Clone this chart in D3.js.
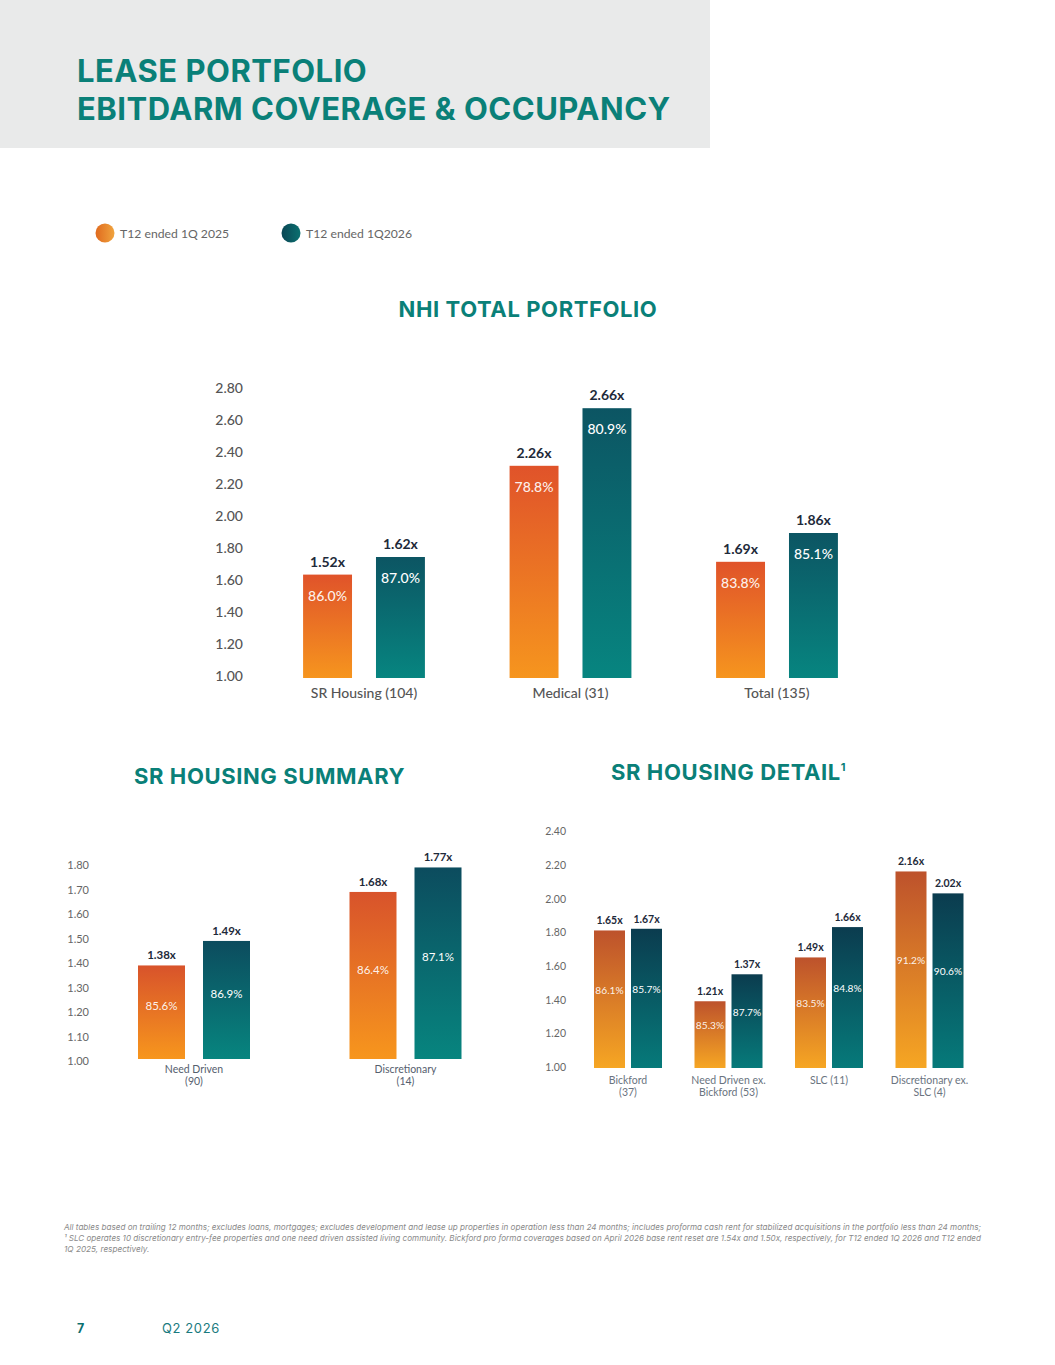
<!DOCTYPE html>
<html><head><meta charset="utf-8">
<script src="https://cdn.jsdelivr.net/npm/d3@7"></script>
<style>
body{margin:0;background:#fff;}
svg{display:block;}
</style></head><body>
<svg id="page" width="1055" height="1365"></svg>
<script>
// ---------------- DATA ----------------
const seriesNames = ["T12 ended 1Q 2025", "T12 ended 1Q2026"];

// NHI total portfolio
const totalCategories = ["SR Housing (104)", "Medical (31)", "Total (135)"];
const totalTicks = [1.0, 1.2, 1.4, 1.6, 1.8, 2.0, 2.2, 2.4, 2.6, 2.8];
const totalCoverage2025 = [1.52, 2.26, 1.69];
const totalCoverage2026 = [1.62, 2.66, 1.86];
const totalBarLevel2025 = [1.64, 2.32, 1.72];   // bar tops as drawn in the picture
const totalBarLevel2026 = [1.75, 2.68, 1.90];
const totalOccupancy2025 = [86.0, 78.8, 83.8];
const totalOccupancy2026 = [87.0, 80.9, 85.1];

// SR housing summary
const summaryCategories = [["Need Driven", "(90)"], ["Discretionary", "(14)"]];
const summaryTicks = [1.0, 1.1, 1.2, 1.3, 1.4, 1.5, 1.6, 1.7, 1.8];
const summaryCoverage2025 = [1.38, 1.68];
const summaryCoverage2026 = [1.49, 1.77];
const summaryBarLevel2025 = [1.39, 1.69];
const summaryBarLevel2026 = [1.49, 1.79];
const summaryOccupancy2025 = [85.6, 86.4];
const summaryOccupancy2026 = [86.9, 87.1];

// SR housing detail
const detailCategories = [["Bickford", "(37)"], ["Need Driven ex.", "Bickford (53)"], ["SLC (11)"], ["Discretionary ex.", "SLC (4)"]];
const detailTicks = [1.0, 1.2, 1.4, 1.6, 1.8, 2.0, 2.2, 2.4];
const detailCoverage2025 = [1.65, 1.21, 1.49, 2.16];
const detailCoverage2026 = [1.67, 1.37, 1.66, 2.02];
const detailBarLevel2025 = [1.81, 1.39, 1.65, 2.16];
const detailBarLevel2026 = [1.82, 1.55, 1.83, 2.03];
const detailOccupancy2025 = [86.1, 85.3, 83.5, 91.2];
const detailOccupancy2026 = [85.7, 87.7, 84.8, 90.6];

const footnoteLines = [
  "All tables based on trailing 12 months; excludes loans, mortgages; excludes development and lease up properties in operation less than 24 months; includes proforma cash rent for stabilized acquisitions in the portfolio less than 24 months;",
  "\u00b9 SLC operates 10 discretionary entry-fee properties and one need driven assisted living community. Bickford pro forma coverages based on April 2026 base rent reset are 1.54x and 1.50x, respectively, for T12 ended 1Q 2026 and T12 ended",
  "1Q 2025, respectively."
];

// ---------------- DRAW ----------------
const svg = d3.select("#page");
const TEAL = "#0a8078";
const FONT = "Lato, 'Open Sans', sans-serif";
const HEAD = "Inter, Roboto, sans-serif";
const defs = svg.append("defs");

function vGrad(id, top, bottom) {
  const g = defs.append("linearGradient").attr("id", id)
    .attr("x1", 0).attr("y1", 0).attr("x2", 0).attr("y2", 1);
  g.append("stop").attr("offset", "0%").attr("stop-color", top);
  g.append("stop").attr("offset", "100%").attr("stop-color", bottom);
}
function hGrad(id, left, right) {
  const g = defs.append("linearGradient").attr("id", id)
    .attr("x1", 0).attr("y1", 0).attr("x2", 1).attr("y2", 0);
  g.append("stop").attr("offset", "0%").attr("stop-color", left);
  g.append("stop").attr("offset", "100%").attr("stop-color", right);
}
vGrad("oTop", "#e0532a", "#f6951e");
vGrad("tTop", "#0c5563", "#078580");
vGrad("oSum", "#d8532b", "#f7961d");
vGrad("tSum", "#0c4c5e", "#07857f");
vGrad("oDet", "#bd522c", "#f6a623");
vGrad("tDet", "#0b3c4f", "#067a7a");
hGrad("oLeg", "#e06a1e", "#f0a43e");
hGrad("tLeg", "#0a4654", "#0b7070");

// header
svg.append("rect").attr("x", 0).attr("y", 0).attr("width", 710).attr("height", 148).attr("fill", "#e9eaea");
const title = svg.append("text").attr("font-family", HEAD).attr("font-weight", 700)
  .attr("font-size", 31).attr("fill", TEAL).attr("letter-spacing", 0.5);
title.append("tspan").attr("x", 77).attr("y", 82).text("LEASE PORTFOLIO");
title.append("tspan").attr("x", 77).attr("y", 120).text("EBITDARM COVERAGE & OCCUPANCY");

// legend
const legend = svg.append("g");
const legendX = [105, 291];
seriesNames.forEach((name, i) => {
  legend.append("circle").attr("cx", legendX[i]).attr("cy", 233).attr("r", 9.5)
    .attr("fill", i === 0 ? "url(#oLeg)" : "url(#tLeg)");
  legend.append("text").attr("x", legendX[i] + 15).attr("y", 237.5)
    .attr("font-family", FONT).attr("font-size", 12.2).attr("fill", "#666").text(name);
});

// section titles
function sectionTitle(x, y, txt, anchor, sup) {
  const t = svg.append("text").attr("x", x).attr("y", y).attr("text-anchor", anchor)
    .attr("font-family", HEAD).attr("font-weight", 700)
    .attr("font-size", 22).attr("fill", TEAL).attr("letter-spacing", 0.6).text(txt);
  if (sup) t.append("tspan").attr("font-size", 11).attr("dy", -9).text(sup);
}
sectionTitle(528, 317, "NHI TOTAL PORTFOLIO", "middle");
sectionTitle(134, 784, "SR HOUSING SUMMARY", "start");
sectionTitle(611, 780, "SR HOUSING DETAIL", "start", "1");

const fmtX = d3.format(".2f");
const fmtP = d3.format(".1f");

function drawChart(cfg) {
  const g = svg.append("g");
  const y = d3.scaleLinear().domain(cfg.domain).range(cfg.yRange);
  const x0 = d3.scaleBand().domain(d3.range(cfg.categories.length)).range(cfg.xRange)
    .paddingInner(cfg.groupPad).paddingOuter(cfg.groupPad / 2);
  const gw = x0.bandwidth();
  const x1 = d3.scaleBand().domain([0, 1]).range([0, gw]).paddingInner(cfg.barPad);

  // y axis
  const axis = d3.axisLeft(y).tickValues(cfg.ticks).tickFormat(d3.format(".2f")).tickSize(0).tickPadding(0);
  const ag = g.append("g").attr("transform", `translate(${cfg.axisX},0)`).call(axis);
  ag.select(".domain").remove();
  ag.selectAll("text").attr("font-family", FONT).attr("font-size", cfg.axisFont)
    .attr("fill", cfg.axisColor).attr("font-weight", cfg.axisWeight || 400).attr("dy", "0.35em")
    .attr("y", cfg.axisDy || 0);

  const series = [
    {levels: cfg.bar25, cov: cfg.cov25, occ: cfg.occ25, fill: cfg.fills[0]},
    {levels: cfg.bar26, cov: cfg.cov26, occ: cfg.occ26, fill: cfg.fills[1]}
  ];
  series.forEach((s, si) => {
    s.levels.forEach((v, ci) => {
      const bx = x0(ci) + x1(si);
      const bw = x1.bandwidth();
      const top = y(v), bottom = y(cfg.domain[0]) + (cfg.baseShift || 0);
      g.append("rect").attr("x", bx).attr("y", top).attr("width", bw).attr("height", bottom - top)
        .attr("fill", s.fill);
      g.append("text").attr("x", bx + bw / 2).attr("y", top - cfg.valueGap).attr("text-anchor", "middle")
        .attr("font-family", FONT).attr("font-weight", 700).attr("font-size", cfg.valueFont)
        .attr("fill", "#1e2a3a").text(fmtX(s.cov[ci]) + "x");
      const occY = cfg.occMode === "top" ? top + cfg.occOffset : (top + bottom) / 2 + cfg.occOffset;
      g.append("text").attr("x", bx + bw / 2).attr("y", occY).attr("text-anchor", "middle")
        .attr("dy", "0.35em").attr("font-family", FONT).attr("font-size", cfg.occFont)
        .attr("font-weight", cfg.occWeight || 400)
        .attr("fill", "#ffffff").attr("fill-opacity", si === 0 ? 0.92 : 1).text(fmtP(s.occ[ci]) + "%");
    });
  });

  // category labels
  cfg.categories.forEach((c, ci) => {
    const lines = Array.isArray(c) ? c : [c];
    const t = g.append("text").attr("text-anchor", "middle").attr("font-family", FONT)
      .attr("font-size", cfg.catFont).attr("fill", cfg.catColor).attr("font-weight", cfg.catWeight || 400);
    lines.forEach((ln, li) => {
      t.append("tspan").attr("x", x0(ci) + gw / 2).attr("y", cfg.catY + li * cfg.catLine).text(ln);
    });
  });
}

drawChart({
  categories: totalCategories, ticks: totalTicks, domain: [1.0, 2.8], yRange: [677, 389],
  xRange: [260.75, 880.25], groupPad: 0.41, barPad: 24 / 73,
  axisX: 243, axisFont: 14, axisColor: "#555", axisWeight: 500, axisDy: -1, baseShift: 1,
  bar25: totalBarLevel2025, bar26: totalBarLevel2026, cov25: totalCoverage2025, cov26: totalCoverage2026,
  occ25: totalOccupancy2025, occ26: totalOccupancy2026, fills: ["url(#oTop)", "url(#tTop)"],
  valueGap: 8, valueFont: 14, occMode: "top", occOffset: 21, occFont: 14, occWeight: 500,
  catY: 698, catLine: 0, catFont: 14, catColor: "#555", catWeight: 500
});

drawChart({
  categories: summaryCategories, ticks: summaryTicks, domain: [1.0, 1.8], yRange: [1061, 865],
  xRange: [88.25, 511.25], groupPad: 1 - 112 / 211.5, barPad: 18 / 65,
  axisX: 89, axisFont: 11, axisColor: "#666", baseShift: -2,
  bar25: summaryBarLevel2025, bar26: summaryBarLevel2026, cov25: summaryCoverage2025, cov26: summaryCoverage2026,
  occ25: summaryOccupancy2025, occ26: summaryOccupancy2026, fills: ["url(#oSum)", "url(#tSum)"],
  valueGap: 6, valueFont: 11.5, occMode: "mid", occOffset: -6, occFont: 11.5,
  catY: 1073, catLine: 11.5, catFont: 10.5, catColor: "#55606e"
});

drawChart({
  categories: detailCategories, ticks: detailTicks, domain: [1.0, 2.4], yRange: [1067, 831],
  xRange: [577.75, 979.75], groupPad: 1 - 68 / 100.5, barPad: 6 / 37,
  axisX: 566, axisFont: 10.5, axisColor: "#666", baseShift: 1,
  bar25: detailBarLevel2025, bar26: detailBarLevel2026, cov25: detailCoverage2025, cov26: detailCoverage2026,
  occ25: detailOccupancy2025, occ26: detailOccupancy2026, fills: ["url(#oDet)", "url(#tDet)"],
  valueGap: 6, valueFont: 10.5, occMode: "mid", occOffset: -9, occFont: 10.2,
  catY: 1084, catLine: 12, catFont: 10.5, catColor: "#6a7480"
});

// footnote
const fn = svg.append("text").attr("font-family", "Inter, 'Open Sans', sans-serif").attr("font-style", "italic")
  .attr("font-size", 8.2).attr("fill", "#8a8a8a");
footnoteLines.forEach((ln, i) => {
  const ts = fn.append("tspan").attr("x", 64).attr("y", 1230 + i * 11).text(ln);
  if (i < 2) ts.attr("textLength", 917).attr("lengthAdjust", "spacingAndGlyphs");
});

// page footer
svg.append("text").attr("x", 77).attr("y", 1333).attr("font-family", HEAD)
  .attr("font-weight", 700).attr("font-size", 12.5).attr("fill", "#0b6f6f").text("7");
svg.append("text").attr("x", 162).attr("y", 1333).attr("font-family", HEAD)
  .attr("font-size", 13).attr("fill", "#1a7a80").attr("letter-spacing", 0.6).text("Q2 2026");
</script>
</body></html>
